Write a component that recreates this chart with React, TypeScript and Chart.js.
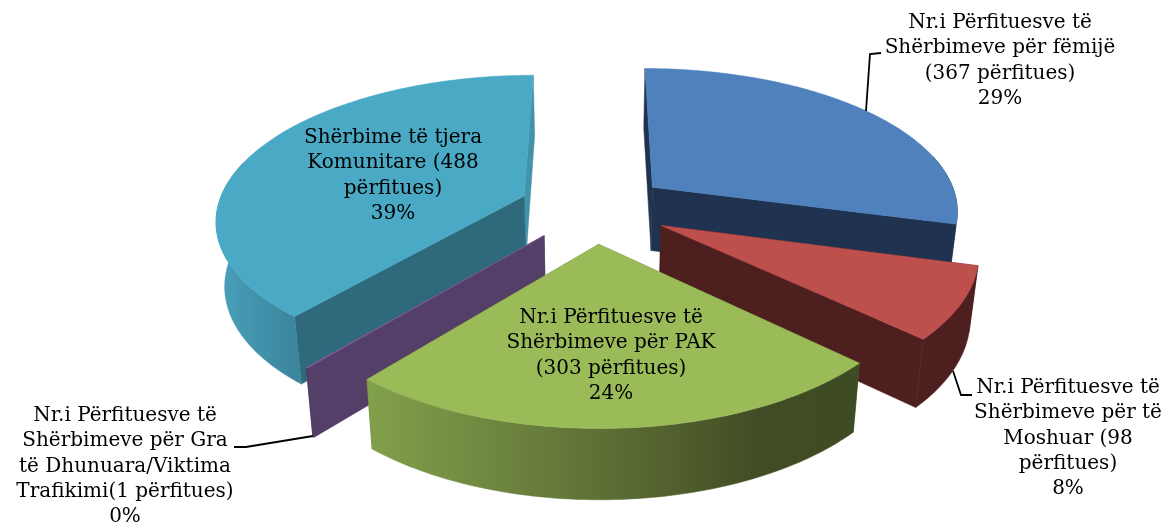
import React, { useEffect, useRef } from "react";
import { Chart, registerables } from "chart.js";

Chart.register(...registerables);

const categories = [
  "Nr.i Përfituesve të Shërbimeve për fëmijë",
  "Nr.i Përfituesve të Shërbimeve për të Moshuar",
  "Nr.i Përfituesve të Shërbimeve për PAK",
  "Nr.i Përfituesve të Shërbimeve për Gra të Dhunuara/Viktima Trafikimi",
  "Shërbime të tjera Komunitare",
];
const beneficiaries = [367, 98, 303, 1, 488];
const topColors = ["#4F81BD", "#BD4F4C", "#9BBB59", "#7E63A0", "#4AA9C4"];
const faceColors = ["#1F3350", "#4D1F1F", "#5E7034", "#533F68", "#2F6A7C"];
const labelLines = [
  ["Nr.i Përfituesve të", "Shërbimeve për fëmijë", "(367 përfitues)", "29%"],
  ["Nr.i Përfituesve të", "Shërbimeve për të", "Moshuar (98", "përfitues)", "8%"],
  ["Nr.i Përfituesve të", "Shërbimeve për PAK", "(303 përfitues)", "24%"],
  ["Nr.i Përfituesve të", "Shërbimeve për Gra", "të Dhunuara/Viktima", "Trafikimi(1 përfitues)", "0%"],
  ["Shërbime të tjera", "Komunitare (488", "përfitues)", "39%"],
];

// Layout of the 3D projection and of the label blocks
const CX = 594, CY = 208, RX = 307, AY = 143, PX = 0.15, PY = 0.155, EXPLODE = 0.245;
const DEPTH = 64, SHRINK_X = 0.977, GROW_Y = 1.033;
const labelAnchors = [[1000, 23], [1068, 388], [611, 318], [125, 416], [393, 138]];
const leaders = [
  [[866, 111], [870, 54], [881, 53]],
  [[953, 371], [961, 395], [972, 395]],
  null,
  [[313, 436], [246, 447], [234, 447]],
  null,
];
const paintOrder = [4, 0, 3, 1, 2];

type P = [number, number];
const top = (u: number, v: number): P => [
  CX + (RX * u) / (1 - PX * v),
  CY + (AY * v) / (1 - PY * v),
];
const bottom = (p: P): P => [CX + SHRINK_X * (p[0] - CX), CY + DEPTH + GROW_Y * (p[1] - CY)];

const rimFill = (ctx: CanvasRenderingContext2D, i: number) => {
  if (i === 2) {
    const g = ctx.createLinearGradient(368, 0, 860, 0);
    g.addColorStop(0, "#82A04B");
    g.addColorStop(0.5, "#5C6D34");
    g.addColorStop(0.8, "#404C24");
    g.addColorStop(1, "#3F4B23");
    return g;
  }
  if (i === 4) {
    const g = ctx.createLinearGradient(217, 0, 302, 0);
    g.addColorStop(0, "#4AA0BA");
    g.addColorStop(1, "#3A839B");
    return g;
  }
  return faceColors[i];
};

const poly = (ctx: CanvasRenderingContext2D, pts: P[], fill: any) => {
  ctx.beginPath();
  pts.forEach((p, k) => (k ? ctx.lineTo(p[0], p[1]) : ctx.moveTo(p[0], p[1])));
  ctx.closePath();
  ctx.fillStyle = fill;
  ctx.strokeStyle = fill;
  ctx.lineWidth = 0.5;
  ctx.fill();
  ctx.stroke();
};

const pie3d = {
  id: "pie3d",
  beforeDatasetDraw(chart: any) {
    const ctx: CanvasRenderingContext2D = chart.ctx;
    const arcs = chart.getDatasetMeta(0).data;
    ctx.save();
    for (const i of paintOrder) {
      const { startAngle: a0, endAngle: a1 } = arcs[i];
      const mid = (a0 + a1) / 2;
      const ou = EXPLODE * Math.cos(mid), ov = EXPLODE * Math.sin(mid);
      const at = (a: number) => top(ou + Math.cos(a), ov + Math.sin(a));
      const apex = top(ou, ov);
      const steps = Math.max(2, Math.ceil((a1 - a0) / 0.02));
      const rim: P[] = [];
      for (let k = 0; k <= steps; k++) rim.push(at(a0 + ((a1 - a0) * k) / steps));
      // radial faces
      const faceS = [apex, at(a0), bottom(at(a0)), bottom(apex)] as P[];
      const faceE = [apex, at(a1), bottom(at(a1)), bottom(apex)] as P[];
      poly(ctx, faceE, i === 4 ? "#4292AA" : faceColors[i]);
      poly(ctx, faceS, faceColors[i]);
      // outer wall, only the part turned toward the viewer
      const wall: P[] = [];
      for (let k = 0; k <= steps; k++) {
        const a = a0 + ((a1 - a0) * k) / steps;
        if (Math.sin(a) > -0.25) wall.push(at(a));
      }
      if (wall.length > 1) {
        poly(ctx, [...wall, ...wall.slice().reverse().map(bottom)], rimFill(ctx, i));
      }
      // top
      poly(ctx, [apex, ...rim], topColors[i]);
    }
    ctx.restore();
    return false;
  },
  afterDatasetsDraw(chart: any) {
    const ctx: CanvasRenderingContext2D = chart.ctx;
    ctx.save();
    ctx.strokeStyle = "#000";
    ctx.lineWidth = 1.8;
    leaders.forEach((l) => {
      if (!l) return;
      ctx.beginPath();
      l.forEach((p, k) => (k ? ctx.lineTo(p[0], p[1]) : ctx.moveTo(p[0], p[1])));
      ctx.stroke();
    });
    ctx.fillStyle = "#000";
    ctx.font = '20px "DejaVu Serif"';
    ctx.textAlign = "center";
    ctx.textBaseline = "middle";
    labelLines.forEach((lines, i) => {
      lines.forEach((t, k) => {
        ctx.fillText(t, labelAnchors[i][0], labelAnchors[i][1] + k * 25.2);
      });
    });
    ctx.restore();
  },
};

export default function App() {
  const ref = useRef<HTMLCanvasElement>(null);
  useEffect(() => {
    const chart = new Chart(ref.current!, {
      type: "pie",
      data: {
        labels: categories,
        datasets: [{ data: beneficiaries, backgroundColor: topColors, borderWidth: 0 }],
      },
      options: {
        animation: false,
        responsive: false,
        plugins: { legend: { display: false }, tooltip: { enabled: false } },
      },
      plugins: [pie3d],
    } as any);
    return () => chart.destroy();
  }, []);
  return (
    <div style={{ position: "absolute", left: 0, top: 0, width: 1170, height: 522, background: "#fff" }}>
      <canvas ref={ref} width={1170} height={522} style={{ display: "block" }} />
    </div>
  );
}
